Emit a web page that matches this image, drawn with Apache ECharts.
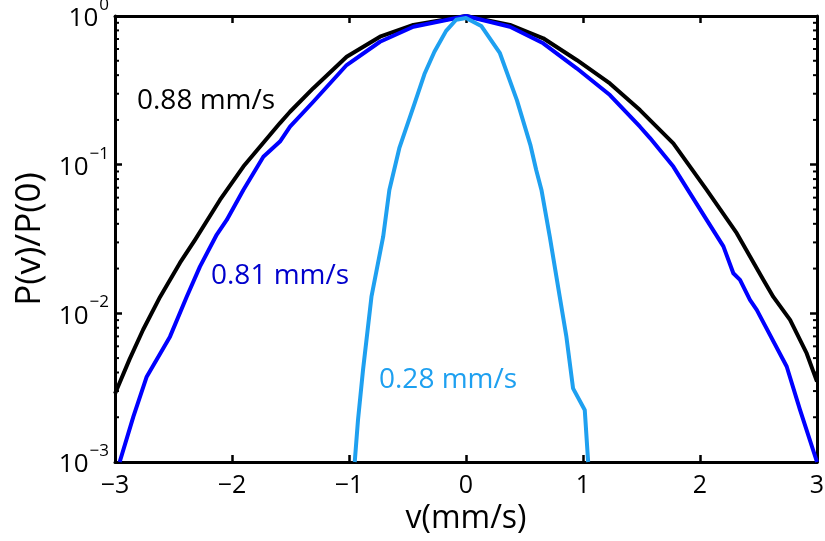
<!DOCTYPE html>
<html><head><meta charset="utf-8">
<script src="https://cdn.jsdelivr.net/npm/echarts@6/dist/echarts.min.js"></script>
<style>html,body{margin:0;padding:0;background:#fff}#c{width:825px;height:541px}</style>
</head><body><div id="c"></div>
<script>
// ---- data ----
const vBlack = [-3.0,-2.876,-2.76,-2.615,-2.444,-2.316,-2.103,-1.903,-1.59,-1.504,-1.305,-1.02,-0.735,-0.45,0,0.376,0.66,0.946,1.23,1.487,1.772,2.057,2.314,2.541,2.627,2.77,2.912,3.0];
const pBlack = [0.00288,0.0049,0.00776,0.0129,0.0219,0.0312,0.0579,0.0971,0.1905,0.227,0.327,0.532,0.726,0.871,1.0,0.871,0.708,0.506,0.352,0.233,0.139,0.0676,0.0346,0.0168,0.0129,0.00904,0.00537,0.00347];

const vBlue = [-2.96,-2.843,-2.729,-2.53,-2.387,-2.274,-2.13,-2.045,-1.903,-1.732,-1.59,-1.504,-1.305,-1.02,-0.735,-0.45,0,0.376,0.66,0.946,1.23,1.487,1.573,1.772,2.057,2.2,2.285,2.342,2.427,2.485,2.741,2.855,3.0];
const pBlue = [0.001,0.00202,0.00375,0.00697,0.01294,0.0206,0.0339,0.0425,0.0676,0.113,0.143,0.18,0.265,0.468,0.671,0.847,1.0,0.847,0.655,0.445,0.294,0.18,0.151,0.0971,0.0425,0.0282,0.0186,0.0168,0.0123,0.01054,0.00439,0.00224,0.001];

const vLight = [-0.951,-0.923,-0.88,-0.808,-0.708,-0.655,-0.57,-0.44,-0.355,-0.27,-0.17,-0.084,0,0.13,0.29,0.435,0.55,0.6,0.645,0.716,0.801,0.858,0.915,1.015,1.044];
const pLight = [0.001,0.00192,0.00417,0.01294,0.0328,0.0676,0.129,0.257,0.407,0.575,0.794,0.944,0.97,0.857,0.562,0.272,0.136,0.092,0.0676,0.0328,0.01294,0.00697,0.00313,0.00224,0.001];

const seriesNames = ['0.88 mm/s','0.81 mm/s','0.28 mm/s'];
const xTicks = [-3,-2,-1,0,1,2,3];
const yDecades = [0.001,0.01,0.1,1];

// ---- chart ----
const FONT = 'Open Sans';
const cBlack = '#000000', cBlue = '#0000ff', cLight = '#1ea0f0';
const zip = (a,b) => a.map((v,i)=>[v,b[i]]);

const minorVals = [];
for (let i = 0; i < yDecades.length - 1; i++) for (let k = 2; k <= 9; k++) minorVals.push(k * yDecades[i]);

const chart = echarts.init(document.getElementById('c'), null, {renderer:'canvas'});
const axisLineStyle = {color:'#000', width:3};
const sup = e => (e < 0 ? '\u2212' + (-e) : String(e));

chart.setOption({
  animation:false,
  backgroundColor:'#fff',
  grid:{left:115, right:8, top:16, bottom:79, outerBoundsMode:'none'},
  xAxis:[{
    type:'value', min:xTicks[0], max:xTicks[xTicks.length-1], interval:1, position:'bottom',
    axisLine:{show:true, onZero:false, lineStyle:axisLineStyle},
    axisTick:{show:true, inside:true, length:7, lineStyle:{color:'#000', width:2.5}},
    axisLabel:{fontFamily:FONT, fontSize:25, color:'#000', margin:11,
      formatter:v => (v < 0 ? '\u2212' + (-v) : String(v))},
    splitLine:{show:false},
    name:'v(mm/s)', nameLocation:'middle', nameGap:36,
    nameTextStyle:{fontFamily:FONT, fontSize:32, color:'#000'}
  },{
    type:'value', min:xTicks[0], max:xTicks[xTicks.length-1], interval:1, position:'top',
    axisLine:{show:true, onZero:false, lineStyle:axisLineStyle},
    axisTick:{show:true, inside:true, length:7, lineStyle:{color:'#000', width:2.5}},
    axisLabel:{show:false}, splitLine:{show:false}
  }],
  yAxis:[{
    type:'log', logBase:10, min:yDecades[0], max:yDecades[yDecades.length-1], position:'left',
    axisLine:{show:true, onZero:false, lineStyle:axisLineStyle},
    axisTick:{show:true, inside:true, length:7, lineStyle:{color:'#000', width:2.5}},
    axisLabel:{margin:6, color:'#000',
      formatter:v => '{b|10}{s|' + sup(Math.round(Math.log10(v))) + '}',
      rich:{
        b:{fontFamily:FONT, fontSize:26, color:'#000', padding:[6,0,0,0]},
        s:{fontFamily:FONT, fontSize:17, color:'#000', padding:[0,0,22,1]}
      }},
    splitLine:{show:false},
    name:'P(v)/P(0)', nameLocation:'middle', nameGap:64, nameRotate:90,
    nameTextStyle:{fontFamily:FONT, fontSize:35, color:'#000'}
  },{
    type:'log', logBase:10, min:yDecades[0], max:yDecades[yDecades.length-1], position:'right',
    axisLine:{show:true, onZero:false, lineStyle:axisLineStyle},
    axisTick:{show:true, inside:true, length:7, lineStyle:{color:'#000', width:2.5}},
    axisLabel:{show:false}, splitLine:{show:false}
  }],
  series:[
    {type:'custom', xAxisIndex:0, yAxisIndex:0, silent:true, z:1,
      data: minorVals.map(v => [xTicks[0], v]),
      renderItem:(params, api) => {
        const y = api.value(1);
        const pL = api.coord([xTicks[0], y]), pR = api.coord([xTicks[xTicks.length-1], y]);
        return {type:'group', children:[
          {type:'line', shape:{x1:pL[0], y1:pL[1], x2:pL[0]+4, y2:pL[1]}, style:{stroke:'#000', lineWidth:2}},
          {type:'line', shape:{x1:pR[0], y1:pR[1], x2:pR[0]-4, y2:pR[1]}, style:{stroke:'#000', lineWidth:2}}
        ]};
      }},
    {name:seriesNames[0], type:'line', data:zip(vBlack,pBlack), showSymbol:false, smooth:false, clip:true,
      lineStyle:{color:cBlack, width:4, join:'round'}, z:2},
    {name:seriesNames[1], type:'line', data:zip(vBlue,pBlue), showSymbol:false, smooth:false, clip:true,
      lineStyle:{color:cBlue, width:4, join:'round'}, z:3},
    {name:seriesNames[2], type:'line', data:zip(vLight,pLight), showSymbol:false, smooth:false, clip:true,
      lineStyle:{color:cLight, width:4, join:'round'}, z:4}
  ],
  graphic:[
    {type:'text', left:137, top:87, style:{text:seriesNames[0], fill:cBlack, font:'28px "Open Sans"'}},
    {type:'text', left:211, top:262, style:{text:seriesNames[1], fill:'#0000cc', font:'28px "Open Sans"'}},
    {type:'text', left:379, top:366, style:{text:seriesNames[2], fill:cLight, font:'28px "Open Sans"'}}
  ]
});
</script></body></html>
